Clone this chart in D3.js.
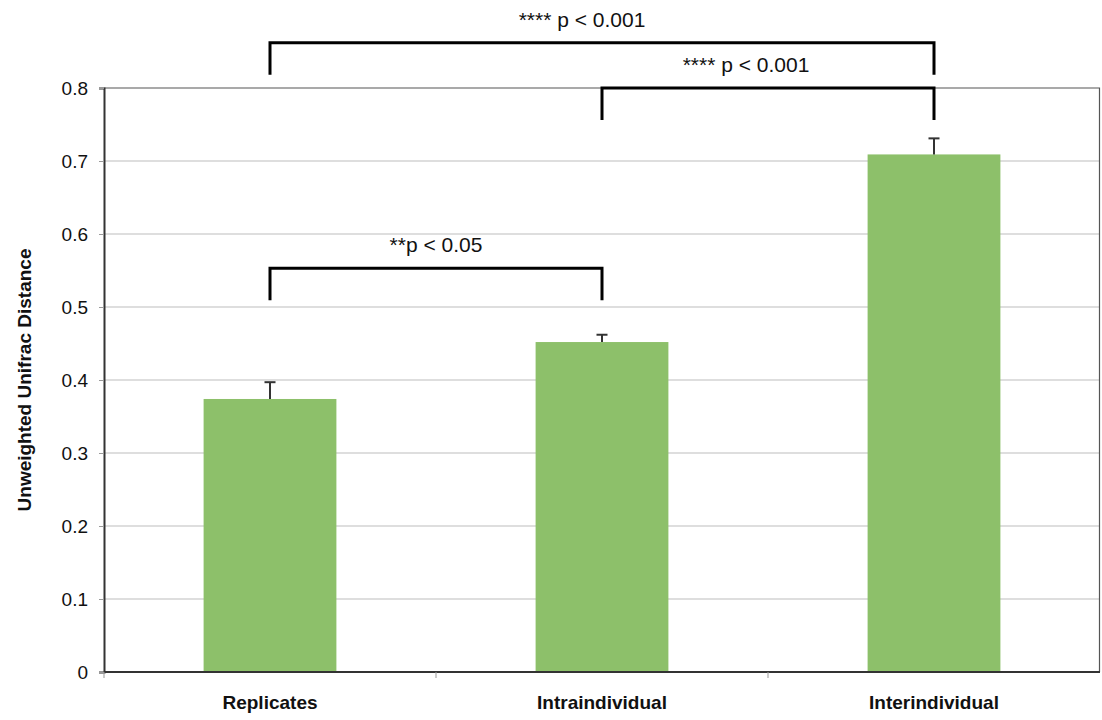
<!DOCTYPE html>
<html>
<head>
<meta charset="utf-8">
<script src="https://cdn.jsdelivr.net/npm/d3@7"></script>
<style>
  body { margin: 0; background: #fff; }
  svg { display: block; font-family: "Liberation Sans", Arial, sans-serif; }
</style>
</head>
<body>
<svg id="chart"></svg>
<script>
// data
const categories = ["Replicates", "Intraindividual", "Interindividual"];
const means = [0.374, 0.452, 0.709];
const errors = [0.023, 0.010, 0.022];
const yTicks = [0, 0.1, 0.2, 0.3, 0.4, 0.5, 0.6, 0.7, 0.8];
// significance brackets: [from, to, bracket level, label]
const brackets = [
  ["Replicates", "Intraindividual", 0.553, "**p < 0.05"],
  ["Intraindividual", "Interindividual", 0.8, "**** p < 0.001"],
  ["Replicates", "Interindividual", 0.862, "**** p < 0.001"],
];
// horizontal nudge of each bracket label (px), the "p < ..." part sits over the centre
const labelShift = [0, -22, -20];

const width = 1102, height = 720;
const margin = { top: 88, right: 2, bottom: 48, left: 104 };

const svg = d3.select("#chart").attr("width", width).attr("height", height);

const x = d3.scaleBand()
  .domain(categories)
  .range([margin.left, width - margin.right])
  .padding(0);

const y = d3.scaleLinear()
  .domain([0, 0.8])
  .range([height - margin.bottom, margin.top]);

const barW = x.bandwidth() * 0.4;
const cx = (c) => x(c) + x.bandwidth() / 2;

// gridlines
svg.append("g")
  .selectAll("line")
  .data(yTicks.filter((t) => t > 0 && t < 0.8))
  .join("line")
  .attr("x1", margin.left)
  .attr("x2", width - margin.right)
  .attr("y1", (d) => y(d))
  .attr("y2", (d) => y(d))
  .attr("stroke", "#bdbdbd")
  .attr("stroke-width", 1);

// plot border (top + right)
svg.append("path")
  .attr("d", `M${margin.left},${y(0.8)}H${width - margin.right - 0.5}V${y(0)}`)
  .attr("fill", "none")
  .attr("stroke", "#555")
  .attr("stroke-width", 1.2);

// bars
svg.append("g")
  .selectAll("rect")
  .data(categories)
  .join("rect")
  .attr("x", (d) => cx(d) - barW / 2)
  .attr("width", barW)
  .attr("y", (d, i) => y(means[i]))
  .attr("height", (d, i) => y(0) - y(means[i]))
  .attr("fill", "#8dc06a");

// error bars (upper only)
const eb = svg.append("g").attr("stroke", "#333").attr("stroke-width", 2);
categories.forEach((c, i) => {
  eb.append("line")
    .attr("x1", cx(c)).attr("x2", cx(c))
    .attr("y1", y(means[i])).attr("y2", y(means[i] + errors[i]));
  eb.append("line")
    .attr("x1", cx(c) - 5.5).attr("x2", cx(c) + 5.5)
    .attr("y1", y(means[i] + errors[i])).attr("y2", y(means[i] + errors[i]));
});

// y axis
const yAxis = svg.append("g")
  .attr("transform", `translate(${margin.left},0)`)
  .call(d3.axisLeft(y).tickValues(yTicks).tickFormat((d) => (d === 0 ? "0" : d3.format(".1f")(d))).tickSize(5).tickPadding(11));
yAxis.select(".domain").attr("stroke", "#333").attr("stroke-width", 2);
yAxis.selectAll(".tick line").attr("stroke", "#999");
yAxis.selectAll("text").attr("font-size", 19).attr("fill", "#111")
  .style("font-family", "'Liberation Sans', Arial, sans-serif");

// x axis: ticks at category boundaries
svg.append("line")
  .attr("x1", margin.left).attr("x2", width - margin.right)
  .attr("y1", y(0)).attr("y2", y(0))
  .attr("stroke", "#333").attr("stroke-width", 2);
svg.append("g")
  .selectAll("line")
  .data(categories)
  .join("line")
  .attr("x1", (d) => x(d)).attr("x2", (d) => x(d))
  .attr("y1", y(0)).attr("y2", y(0) + 6)
  .attr("stroke", "#999");

svg.append("g")
  .selectAll("text")
  .data(categories)
  .join("text")
  .attr("x", (d) => cx(d))
  .attr("y", y(0) + 37)
  .attr("text-anchor", "middle")
  .attr("font-size", 19)
  .attr("font-weight", "bold")
  .attr("fill", "#111")
  .text((d) => d);

// y axis title
svg.append("text")
  .attr("transform", `translate(31,${(y(0) + y(0.8)) / 2}) rotate(-90)`)
  .attr("text-anchor", "middle")
  .attr("font-size", 19)
  .attr("font-weight", "bold")
  .attr("fill", "#111")
  .text("Unweighted Unifrac Distance");

// significance brackets
const bg = svg.append("g");
brackets.forEach(([a, b, lvl, label], i) => {
  const x1 = cx(a), x2 = cx(b), yy = y(lvl);
  bg.append("path")
    .attr("d", `M${x1},${yy + 32}V${yy}H${x2}V${yy + 32}`)
    .attr("fill", "none")
    .attr("stroke", "#000")
    .attr("stroke-width", 3);
  bg.append("text")
    .attr("x", (x1 + x2) / 2 + labelShift[i])
    .attr("y", yy - 16)
    .attr("text-anchor", "middle")
    .attr("font-size", 21)
    .attr("fill", "#111")
    .text(label);
});
</script>
</body>
</html>
